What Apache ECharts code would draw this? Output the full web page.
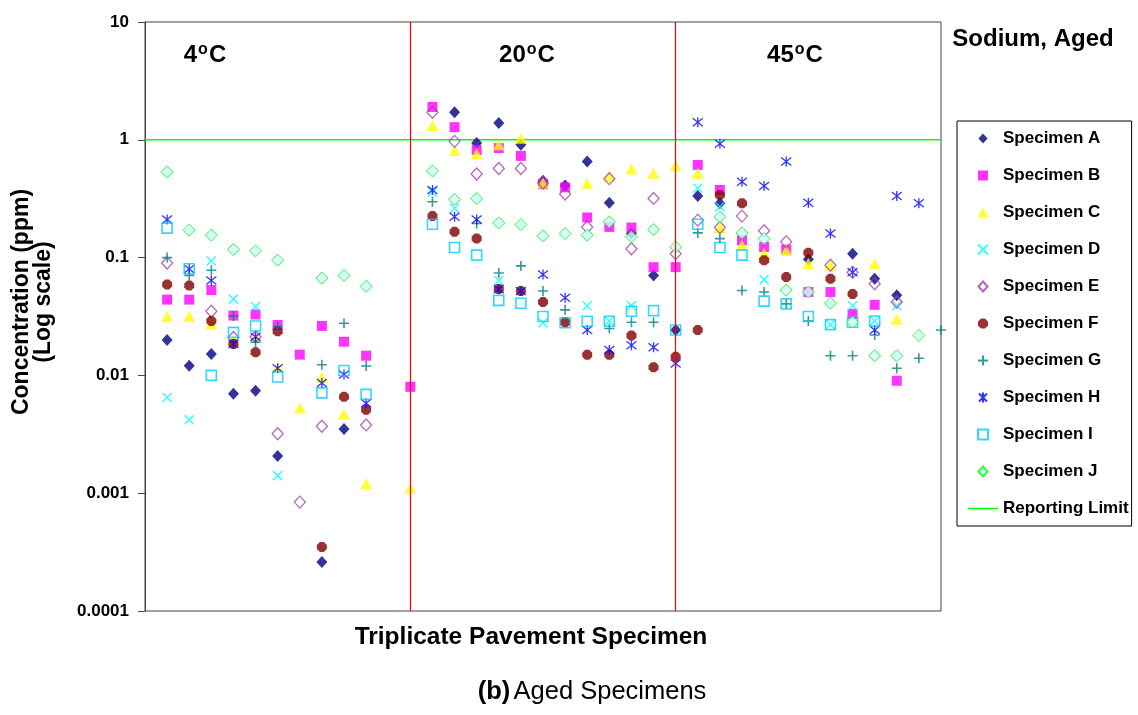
<!DOCTYPE html>
<html><head><meta charset="utf-8">
<script src="https://cdn.jsdelivr.net/npm/echarts@6/dist/echarts.min.js"></script>
<style>html,body{margin:0;padding:0;background:#fff}#c{width:1138px;height:715px}</style>
</head><body><div id="c"></div>
<script>
// x positions 1..36 (12 per temperature block)
const positions = Array.from({length: 36}, (_, i) => i + 1);
const specimenA = [0.020,0.0121,0.0152,0.0070,0.0074,0.00207,null,0.00026,0.0035,null,null,null,
  null,1.71,0.94,1.39,0.906,0.45,0.41,0.653,0.292,0.16,0.0706,0.0243,
  0.333,0.289,null,null,null,0.097,null,0.108,0.066,0.048,null,null];
const specimenB = [0.044,0.044,0.053,0.0322,0.0329,0.0268,0.015,0.0263,0.0193,0.0147,null,0.008,
  1.90,1.28,0.82,0.85,0.73,0.42,0.395,0.219,0.182,0.18,0.083,0.083,
  0.612,0.375,0.14,0.123,0.117,0.051,0.051,0.0333,0.0397,0.009,null,null];
const specimenC = [0.0316,0.0316,0.0274,0.020,0.0213,0.0117,0.0053,0.0096,0.0047,0.0012,null,0.0011,
  1.32,0.81,0.76,0.906,1.03,0.43,null,0.427,0.49,0.566,0.52,0.60,
  0.52,0.18,0.127,0.109,0.115,0.089,0.086,null,0.089,0.030,null,null];
const specimenD = [0.0065,0.0042,0.0935,0.0444,0.0385,0.00141,null,null,null,null,null,null,
  0.36,0.262,null,0.064,null,0.028,null,0.039,0.029,0.039,null,null,
  0.388,0.27,null,0.065,null,null,0.027,0.039,0.029,0.039,null,null];
const specimenE = [0.09,null,0.035,0.021,0.0213,0.0032,0.00084,0.0037,null,0.0038,null,null,
  1.71,0.97,0.513,0.57,0.57,0.43,0.346,0.182,0.468,0.119,0.318,0.108,
  0.208,0.18,0.225,0.169,0.136,null,0.086,0.075,0.06,0.042,null,null];
const specimenF = [0.059,0.058,0.029,0.0185,0.0157,0.0237,null,0.00035,0.0066,0.0051,null,null,
  0.225,0.166,0.145,0.054,0.052,0.042,0.0282,0.015,0.015,0.0218,0.0117,0.0144,
  0.0243,0.34,0.289,0.095,0.0685,0.11,0.066,0.049,null,null,null,null];
const specimenG = [0.1,0.0706,0.078,0.032,0.0191,0.026,null,0.0123,0.0277,0.012,null,null,
  0.298,null,0.195,0.074,0.085,0.052,0.036,null,0.025,0.0283,0.0283,null,
  0.162,0.145,0.0526,0.051,0.0405,0.029,0.0147,0.0147,0.022,0.0115,0.014,0.0243];
const specimenH = [0.211,0.08,0.064,0.0185,0.0213,0.0115,null,0.0086,0.0102,0.0058,null,null,
  0.375,0.222,0.211,0.054,0.052,0.072,0.0456,0.0243,0.0164,0.018,0.0173,0.0126,
  1.41,0.924,0.44,0.405,0.653,0.292,0.16,0.075,0.0243,0.333,0.289,null];
const specimenI = [0.178,0.0805,0.01,0.0232,0.0263,0.0097,null,0.0071,0.011,0.0069,null,null,
  0.192,0.122,0.105,0.0433,0.041,0.0316,0.028,0.0288,0.0288,0.035,0.0355,0.0243,
  0.192,0.122,0.105,0.0427,0.0405,0.0316,0.027,0.0283,0.029,null,null,null];
const specimenJ = [0.533,0.171,0.155,0.117,0.114,0.095,null,0.067,0.0706,0.057,null,null,
  0.544,0.312,0.318,0.197,0.191,0.153,0.160,0.155,0.201,0.15,0.173,0.123,
  null,0.222,0.162,0.145,0.053,0.051,0.041,0.0283,0.0147,0.0147,0.0218,null];
const reportingLimit = 1;
const tickLabels = ['0.0001','0.001','0.01','0.1','1','10'];
const groupLabels = ['4','20','45'];
const groupDividers = [12, 24];
const xRange = [0, 36];

const FONT = '"Liberation Sans", Arial, sans-serif';
const chart = echarts.init(document.getElementById('c'), null, {renderer: 'canvas'});

function pts(arr) {
  const out = [];
  arr.forEach((v, i) => { if (v != null) out.push([positions[i], v]); });
  return out;
}
const DIAMOND = 'path://M5.5,0L11,6L5.5,12L0,6Z';
const SQUARE = 'path://M0,0L10,0L10,10L0,10Z';
const TRIANGLE = 'path://M6,0L12,11L0,11Z';
const OCTAGON = 'path://M3,0L7,0L10,3L10,7L7,10L3,10L0,7L0,3Z';
const styles = {
  A: {symbol: DIAMOND, size: [11, 12], item: {color: '#000080'}},
  B: {symbol: SQUARE, size: 10, item: {color: '#ff00ff'}},
  C: {symbol: TRIANGLE, size: [12, 11], item: {color: '#ffff00'}},
  D: {symbol: 'path://M0,0L10,10M10,0L0,10', size: 9, item: {color: 'rgba(0,0,0,0)', borderColor: '#00ffff', borderWidth: 1.5}},
  E: {symbol: DIAMOND, size: [11, 12], item: {color: 'rgba(0,0,0,0)', borderColor: '#a040b0', borderWidth: 1.3}},
  F: {symbol: OCTAGON, size: 10, item: {color: '#800000'}},
  G: {symbol: 'path://M5,0L5,10M0,5L10,5', size: 10, item: {color: 'rgba(0,0,0,0)', borderColor: '#008080', borderWidth: 1.6}},
  H: {symbol: 'path://M5,0L5,10M1,1L9,9M9,1L1,9', size: 10, item: {color: 'rgba(0,0,0,0)', borderColor: '#0000ff', borderWidth: 1.3}},
  I: {symbol: SQUARE, size: 10, item: {color: 'rgba(0,0,0,0)', borderColor: '#00ccff', borderWidth: 1.6}},
  J: {symbol: DIAMOND, size: [12, 12], item: {color: '#ccffff', borderColor: '#00ff00', borderWidth: 1}}
};
const specimens = [['A', specimenA], ['B', specimenB], ['C', specimenC], ['D', specimenD], ['E', specimenE],
  ['F', specimenF], ['G', specimenG], ['H', specimenH], ['I', specimenI], ['J', specimenJ]];

const series = specimens.map(([k, arr]) => ({
  name: 'Specimen ' + k,
  type: 'scatter',
  data: pts(arr),
  symbol: styles[k].symbol,
  symbolSize: styles[k].size,
  itemStyle: styles[k].item,
  emphasis: {disabled: true},
  silent: true
}));
series.push({
  name: 'Reporting Limit',
  type: 'line',
  data: [[xRange[0], reportingLimit], [xRange[1], reportingLimit]],
  symbol: 'none',
  lineStyle: {color: '#00ff00', width: 1.5},
  itemStyle: {color: '#00ff00'},
  z: 1,
  silent: true,
  markLine: {
    silent: true, symbol: 'none', label: {show: false},
    lineStyle: {color: '#ff0000', width: 1.2, type: 'solid'},
    data: groupDividers.map(x => ({xAxis: x}))
  }
});

const groupCenters = [205, 527, 795];
const graphics = groupLabels.map((g, i) => ({
  type: 'text', x: groupCenters[i], y: 55, z: 100,
  style: {
    text: '{a|' + g + '}{s|o}{a|C}', align: 'center', verticalAlign: 'middle',
    rich: {
      a: {fontSize: 24, fontWeight: 'bold', fontFamily: FONT, fill: '#000', lineHeight: 26},
      s: {fontSize: 16, fontWeight: 'bold', fontFamily: FONT, fill: '#000', verticalAlign: 'top', lineHeight: 26, padding: [0, 1, 0, 1]}
    }
  }
}));
graphics.push(
  {type: 'text', x: 1033, y: 39, style: {text: 'Sodium, Aged', font: 'bold 24px ' + FONT, fill: '#000', align: 'center', verticalAlign: 'middle'}},
  {type: 'text', x: 531, y: 637, style: {text: 'Triplicate Pavement Specimen', font: 'bold 24.5px ' + FONT, fill: '#000', align: 'center', verticalAlign: 'middle'}},
  {type: 'text', x: 592, y: 692, style: {
    text: '{b|(b)} {n|Aged Specimens}', align: 'center', verticalAlign: 'middle',
    rich: {b: {fontSize: 25.5, fontWeight: 'bold', fontFamily: FONT, fill: '#000'}, n: {fontSize: 25.5, fontFamily: FONT, fill: '#000'}}
  }},
  {type: 'text', x: 33, y: 302, rotation: Math.PI / 2, style: {
    text: 'Concentration (ppm)\n(Log scale)', font: 'bold 23px ' + FONT, fill: '#000',
    align: 'center', verticalAlign: 'middle', lineHeight: 22
  }}
);

chart.setOption({
  animation: false,
  backgroundColor: '#ffffff',
  grid: {left: 145, right: 197, top: 22, bottom: 104, show: true, borderColor: '#444', borderWidth: 1, backgroundColor: 'transparent'},
  xAxis: {type: 'value', min: xRange[0], max: xRange[1], axisLine: {show: false}, axisTick: {show: false}, axisLabel: {show: false}, splitLine: {show: false}},
  yAxis: {
    type: 'log', logBase: 10, min: 0.0001, max: 10,
    axisLine: {show: true, lineStyle: {color: '#444', width: 1}},
    axisTick: {show: true, length: 7, inside: false, lineStyle: {color: '#444'}},
    minorTick: {show: false},
    splitLine: {show: false},
    axisLabel: {
      margin: 16, color: '#000', fontSize: 17, fontWeight: 'bold', fontFamily: FONT,
      formatter: v => tickLabels[Math.round(Math.log10(v)) + 4]
    }
  },
  legend: {
    orient: 'vertical', left: 957, top: 121,
    padding: [9, 3, 9, 11], itemGap: 20, itemWidth: 30, itemHeight: 10,
    symbolKeepAspect: true,
    borderColor: '#000', borderWidth: 1, backgroundColor: '#fff',
    textStyle: {fontSize: 17, fontWeight: 'bold', fontFamily: FONT, color: '#000', lineHeight: 17},
    data: specimens.map(s => 'Specimen ' + s[0]).concat([{name: 'Reporting Limit', icon: 'path://M0,0L20,0L20,1L0,1Z'}])
  },
  graphic: graphics,
  series: series
});
</script></body></html>
